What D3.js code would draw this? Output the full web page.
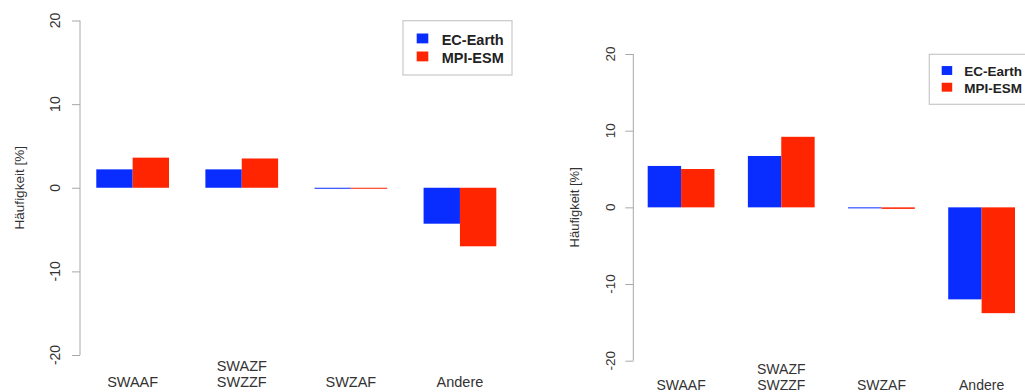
<!DOCTYPE html>
<html>
<head>
<meta charset="utf-8">
<script src="https://cdn.jsdelivr.net/npm/d3@7"></script>
<style>
  body { margin: 0; background: #fff; }
  svg { display: block; font-family: "Liberation Sans", Arial, sans-serif; }
</style>
</head>
<body>
<div id="chart"></div>
<script>
// Data
const categories = ["SWAAF", "SWAZF\nSWZZF", "SWZAF", "Andere"];
const series = ["EC-Earth", "MPI-ESM"];
const leftEC = [2.2, 2.2, -0.1, -4.3];
const leftMPI = [3.6, 3.5, -0.1, -7.0];
const rightEC = [5.4, 6.7, -0.1, -12.0];
const rightMPI = [5.0, 9.2, -0.2, -13.8];
const yTicks = [-20, -10, 0, 10, 20];

const colors = ["#0a2dff", "#ff2500"];

const svg = d3.select("#chart")
  .append("svg")
  .attr("width", 1025)
  .attr("height", 392);

// Panel layout
const panels = [
  {
    values: [leftEC, leftMPI],
    axisX: 80, yTop: 20.5, yBottom: 355,
    barStart: 96.3, barEnd: 496.3, unit: 36.4,
    tickSize: 14, tickBase: 60, labelSize: 13.5, labelBase: 23.5,
    catSize: 14.5, catBase: 387,
    legend: {x: 403, y: 20.7, w: 109, h: 54.3, sw: 11.6, swX: 416.7, textX: 441.7, row0: 39.3, rowGap: 18, size: 14.5}
  },
  {
    values: [rightEC, rightMPI],
    axisX: 633.3, yTop: 54, yBottom: 360.7,
    barStart: 647.7, barEnd: 1015, unit: 33.4,
    tickSize: 13.5, tickBase: 615, labelSize: 13, labelBase: 579,
    catSize: 14, catBase: 390,
    legend: {x: 929.3, y: 54.3, w: 110, h: 50, sw: 10.5, swX: 941.7, textX: 964.3, row0: 71.3, rowGap: 16.7, size: 13.5}
  }
];

panels.forEach(p => {
  const g = svg.append("g");

  const y = d3.scaleLinear()
    .domain([-20, 20])
    .range([p.yBottom, p.yTop]);

  const x = d3.scaleBand()
    .domain(categories)
    .range([p.barStart - p.unit / 2, p.barEnd + p.unit / 2])
    .paddingInner(1 / 3)
    .paddingOuter(1 / 6);

  const xs = d3.scaleBand()
    .domain(series)
    .range([0, x.bandwidth()]);

  // Y-axis
  const axis = g.append("g")
    .attr("transform", `translate(${p.axisX},0)`)
    .call(d3.axisLeft(y).tickValues(yTicks).tickSize(8).tickFormat(""));
  axis.select(".domain").attr("stroke", "#a8a8a8").attr("d", `M0,${y(-20)}V${y(20)}`);
  axis.selectAll(".tick line").attr("stroke", "#a8a8a8");

  // tick labels (rotated)
  g.selectAll(".ytl")
    .data(yTicks)
    .enter()
    .append("text")
    .attr("transform", d => `translate(${p.tickBase},${y(d)}) rotate(-90)`)
    .attr("text-anchor", "middle")
    .style("font-size", p.tickSize + "px")
    .attr("fill", "#333")
    .text(d => d);

  // Y-axis label
  g.append("text")
    .attr("transform", `translate(${p.labelBase},${(p.yTop + p.yBottom) / 2}) rotate(-90)`)
    .attr("text-anchor", "middle")
    .style("font-size", p.labelSize + "px")
    .attr("fill", "#333")
    .text("Häufigkeit [%]");

  // Bars
  const rows = categories.map((c, i) => ({cat: c, vals: series.map((s, j) => ({s, v: p.values[j][i]}))}));
  g.selectAll(".grp")
    .data(rows)
    .enter()
    .append("g")
    .attr("transform", d => `translate(${x(d.cat)},0)`)
    .selectAll("rect")
    .data(d => d.vals)
    .enter()
    .append("rect")
    .attr("x", d => xs(d.s))
    .attr("y", d => y(Math.max(0, d.v)))
    .attr("width", xs.bandwidth())
    .attr("height", d => Math.max(1, Math.abs(y(d.v) - y(0))))
    .attr("fill", (d, j) => colors[j]);

  // Category labels
  g.selectAll(".cat")
    .data(categories)
    .enter()
    .append("text")
    .attr("x", d => x(d) + x.bandwidth() / 2)
    .attr("y", p.catBase)
    .attr("text-anchor", "middle")
    .style("font-size", p.catSize + "px")
    .attr("fill", "#333")
    .each(function (d) {
      const lines = d.split("\n");
      d3.select(this).selectAll("tspan")
        .data(lines)
        .enter()
        .append("tspan")
        .attr("x", x(d) + x.bandwidth() / 2)
        .attr("dy", (l, k) => k === 0 ? -(lines.length - 1) * 16 : 16)
        .text(l => l);
    });

  // Legend
  const L = p.legend;
  g.append("rect")
    .attr("x", L.x)
    .attr("y", L.y)
    .attr("width", L.w)
    .attr("height", L.h)
    .attr("fill", "#fff")
    .attr("stroke", "#c8c8c8")
    .attr("stroke-width", 1.2);

  const items = g.selectAll(".leg")
    .data(series)
    .enter()
    .append("g")
    .attr("transform", (d, i) => `translate(0,${L.row0 + i * L.rowGap})`);

  items.append("rect")
    .attr("x", L.swX)
    .attr("y", -L.sw / 2)
    .attr("width", L.sw)
    .attr("height", L.sw * 0.85)
    .attr("fill", (d, i) => colors[i]);

  items.append("text")
    .attr("x", L.textX)
    .attr("y", L.size * 0.36)
    .style("font-size", L.size + "px")
    .style("font-weight", "bold")
    .attr("fill", "#222")
    .text(d => d);
});
</script>
</body>
</html>
